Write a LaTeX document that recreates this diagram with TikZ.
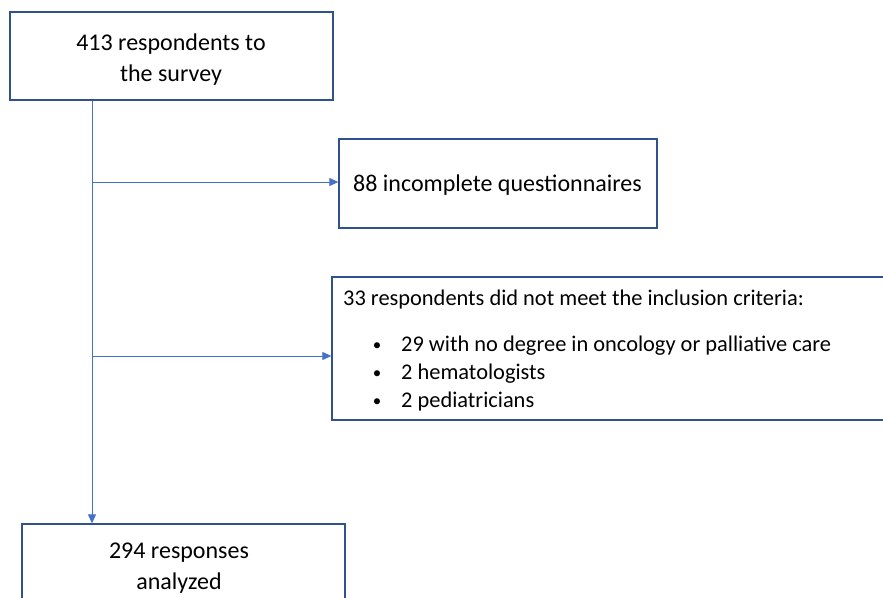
\documentclass[tikz,border=0pt]{standalone}
\usepackage{fontspec}
\setmainfont{Carlito}
\usetikzlibrary{arrows.meta}
\definecolor{boxblue}{HTML}{2F528F}
\definecolor{lineblue}{HTML}{4472C4}
\begin{document}
\begin{tikzpicture}[x=1pt,y=-1pt,
  box/.style={draw=boxblue,line width=1.3pt,inner sep=0pt,fill=white},
  txt/.style={font=\fontsize{24}{31}\selectfont,inner sep=0pt,anchor=base},
  ltxt/.style={font=\fontsize{24}{31}\selectfont,inner sep=0pt,anchor=base west},
  stxt/.style={font=\fontsize{22.4}{28}\selectfont,inner sep=0pt,anchor=base west},
  bul/.style={font=\fontsize{17}{28}\selectfont,inner sep=0pt,anchor=base},
  conn/.style={draw=lineblue,line width=0.9pt,-{Triangle[length=9pt,width=8pt]}}]
\useasboundingbox (0,0) rectangle (883,597);
\clip (0,0) rectangle (883,597);
\fill[white] (0,0) rectangle (883,597);
% boxes
\node[box,minimum width=323pt,minimum height=88pt] (top) at (171.5,56) {};
\node[box,minimum width=318pt,minimum height=89pt] (inc) at (498,183.5) {};
\node[box,minimum width=560pt,minimum height=143pt] (excl) at (612,348.5) {};
\node[box,minimum width=323pt,minimum height=100pt] (res) at (183.5,574) {};
% texts
\node[txt] (t1) at (171,50) {413 respondents to};
\node[txt] (t2) at (171,81) {the survey};
\node[ltxt] (t3) at (353,191) {88 incomplete questionnaires};
\node[stxt] (t4) at (343,305) {33 respondents did not meet the inclusion criteria:};
\node[bul] (b1) at (377,350) {•};
\node[bul] (b2) at (377,378) {•};
\node[bul] (b3) at (377,406) {•};
\node[stxt] (t5) at (401,351) {29 with no degree in oncology or palliative care};
\node[stxt] (t6) at (401,379) {2 hematologists};
\node[stxt] (t7) at (401,407) {2 pediatricians};
\node[txt] (t8) at (179,558) {294 responses};
\node[txt] (t9) at (179,589) {analyzed};
% connectors
\coordinate (j1) at (92,182);
\coordinate (j2) at (92,356);
\draw[conn] (top.south -| j1) -- (res.north -| j1);
\draw[conn] (j1) -- (inc.west |- j1);
\draw[conn] (j2) -- (excl.west |- j2);
\end{tikzpicture}
\end{document}
